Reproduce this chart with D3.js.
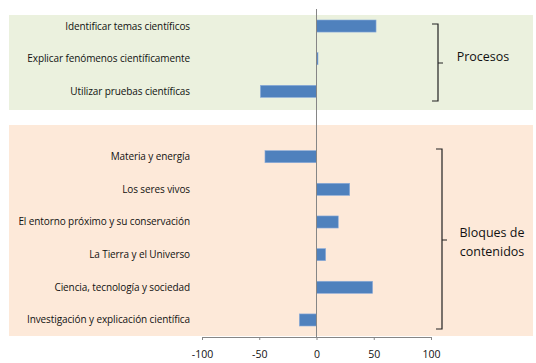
<!DOCTYPE html>
<html lang="es">
  <head>
    <meta charset="utf-8" />
    <title>Procesos y bloques de contenidos</title>
    <script src="https://cdn.jsdelivr.net/npm/d3@7"></script>
    <style>
      body { margin: 0; background: #fff; }
    </style>
  </head>
  <body>
    <svg id="chart" width="536" height="363"></svg>
    <script>
      // categories and values
      const procesos = ["Identificar temas científicos", "Explicar fenómenos científicamente", "Utilizar pruebas científicas"];
      const procesosValues = [52, 1, -49];
      const bloques = ["Materia y energía", "Los seres vivos", "El entorno próximo y su conservación",
        "La Tierra y el Universo", "Ciencia, tecnología y sociedad", "Investigación y explicación científica"];
      const bloquesValues = [-45, 29, 19, 8, 49, -15];
      const xTicks = [-100, -50, 0, 50, 100];
      const groupLabels = [["Procesos"], ["Bloques de", "contenidos"]];

      const data = procesos.map((c, i) => ({ cat: c, value: procesosValues[i] }))
        .concat(bloques.map((c, i) => ({ cat: c, value: bloquesValues[i] })));

      const svg = d3.select("#chart")
        .attr("font-family", "'Open Sans', sans-serif");

      const x = d3.scaleLinear().domain([-100, 100]).range([202, 431]);
      const y = d3.scaleBand()
        .domain([...procesos, "__gap__", ...bloques])
        .range([9.7, 336.3])
        .paddingInner(0.63)
        .paddingOuter(0.315);

      // background panels
      svg.append("rect").attr("x", 9).attr("y", 15).attr("width", 524).attr("height", 95).attr("fill", "#ebf1de");
      svg.append("rect").attr("x", 9).attr("y", 125).attr("width", 524).attr("height", 211).attr("fill", "#fde9d9");

      // bars
      svg.append("g")
        .selectAll("rect")
        .data(data)
        .join("rect")
          .attr("x", d => x(Math.min(0, d.value)))
          .attr("y", d => y(d.cat))
          .attr("width", d => Math.max(1.5, Math.abs(x(d.value) - x(0))))
          .attr("height", y.bandwidth())
          .attr("fill", "#4f81bd")
          .attr("stroke", "#8eaedb")
          .attr("stroke-width", 0.6);

      // category labels
      svg.append("g")
        .selectAll("text")
        .data(data)
        .join("text")
          .attr("x", 190)
          .attr("y", d => y(d.cat) + y.bandwidth() / 2)
          .attr("dy", "0.35em")
          .attr("text-anchor", "end")
          .attr("font-size", "10px")
          .attr("letter-spacing", "-0.1px")
          .attr("fill", "#111")
          .text(d => d.cat);

      // zero line
      svg.append("line")
        .attr("x1", x(0)).attr("x2", x(0))
        .attr("y1", 9).attr("y2", 337)
        .attr("stroke", "#868686").attr("stroke-width", 1);

      // x axis
      const xAxis = svg.append("g")
        .attr("transform", "translate(0,337)")
        .call(d3.axisBottom(x).tickValues(xTicks).tickFormat(d => String(d)).tickSize(3).tickPadding(11));
      xAxis.select(".domain").attr("stroke", "#868686");
      xAxis.selectAll(".tick line").attr("stroke", "#868686");
      xAxis.selectAll(".tick text")
        .attr("font-family", "'Open Sans', sans-serif")
        .attr("font-size", "10.5px")
        .attr("fill", "#111");

      // brackets
      function bracket(x0, y0, y1, mid) {
        const p = d3.path();
        p.moveTo(x0 - 6, y0); p.lineTo(x0, y0); p.lineTo(x0, y1); p.lineTo(x0 - 6, y1);
        p.moveTo(x0, mid); p.lineTo(x0 + 5, mid);
        svg.append("path").attr("d", p.toString())
          .attr("fill", "none").attr("stroke", "#222").attr("stroke-width", 1.2);
      }
      bracket(438, 24, 101, 63);
      bracket(442, 149, 329, 240);

      // group labels
      svg.append("text").attr("x", 483).attr("y", 57).attr("dy", "0.35em")
        .attr("text-anchor", "middle").attr("font-size", "12.5px").attr("fill", "#111")
        .text(groupLabels[0][0]);
      svg.append("g").selectAll("text").data(groupLabels[1]).join("text")
        .attr("x", 492).attr("y", (d, i) => 233 + i * 19).attr("dy", "0.35em")
        .attr("text-anchor", "middle").attr("font-size", "12.5px").attr("fill", "#111")
        .text(d => d);
    </script>
  </body>
</html>
